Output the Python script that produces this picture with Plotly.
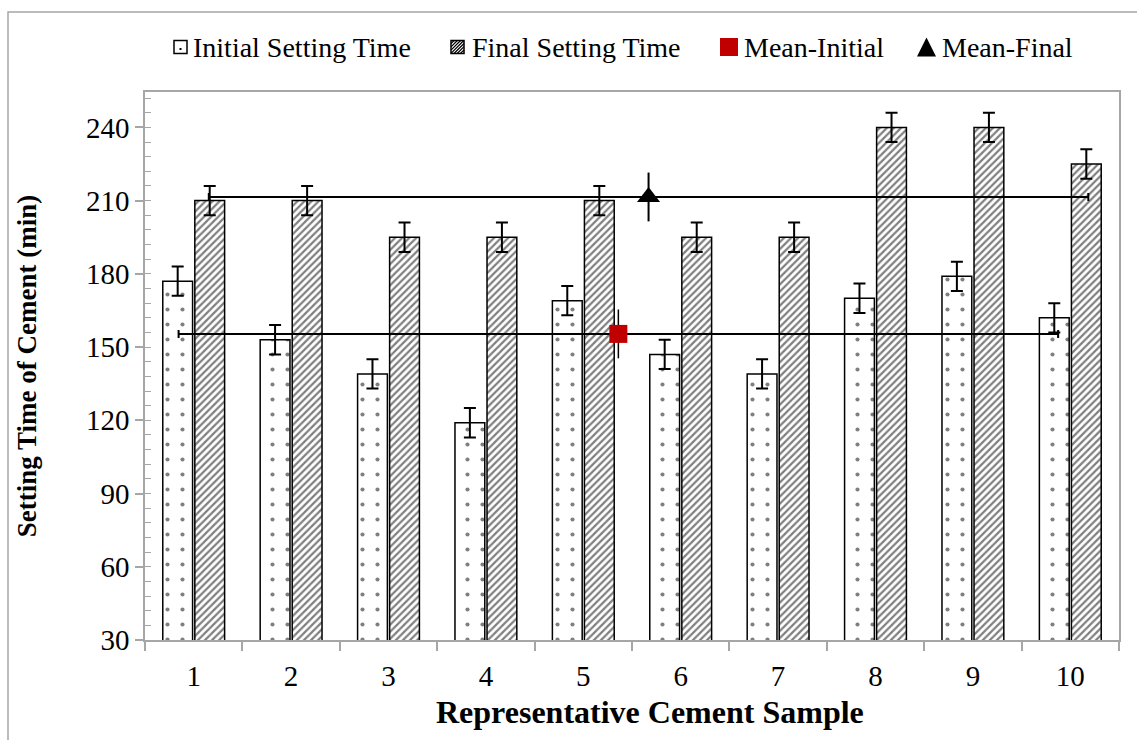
import plotly.graph_objects as go

samples = [1, 2, 3, 4, 5, 6, 7, 8, 9, 10]
initial_time = [177, 153, 139, 119, 169, 147, 139, 170, 179, 162]
final_time = [210, 210, 195, 195, 210, 195, 195, 240, 240, 225]
bar_err = 6

mean_initial = 155.4
mean_final = 211.5
mean_initial_x = 5.36
mean_final_x = 5.67
mean_x_half_span = 4.515
mean_y_err = 10

legend_names = ["Initial Setting Time", "Final Setting Time", "Mean-Initial", "Mean-Final"]
x_title = "Representative Cement Sample"
y_title = "Setting Time of Cement (min)"

FONT = "Liberation Serif"

# plot-area geometry in pixels (for legend placement in paper coordinates)
W, H = 1137, 740
ML, MR, MT, MB = 145, 18, 92, 100
PW, PH = W - ML - MR, H - MT - MB


def px(x):
    return (x - ML) / PW


def py(y):
    return (H - MB - y) / PH


fig = go.Figure()

fig.add_trace(go.Bar(
    x=samples, y=initial_time, name=legend_names[0],
    marker=dict(color="white", line=dict(color="black", width=1.5),
                pattern=dict(shape=".", fgcolor="black", bgcolor="white", size=15, solidity=0.06)),
    error_y=dict(type="constant", value=bar_err, color="black", thickness=2, width=6),
))
fig.add_trace(go.Bar(
    x=samples, y=final_time, name=legend_names[1],
    marker=dict(color="white", line=dict(color="black", width=1.5),
                pattern=dict(shape="/", fgcolor="black", bgcolor="white", size=5, solidity=0.45)),
    error_y=dict(type="constant", value=bar_err, color="black", thickness=2, width=6),
))
fig.add_trace(go.Scatter(
    x=[mean_initial_x], y=[mean_initial], name=legend_names[2], mode="markers",
    marker=dict(symbol="square", size=18, color="#C00000"),
    error_x=dict(type="constant", value=mean_x_half_span, color="black", thickness=2, width=4),
    error_y=dict(type="constant", value=mean_y_err, color="black", thickness=1.5, width=0),
))
fig.add_trace(go.Scatter(
    x=[mean_final_x], y=[mean_final], name=legend_names[3], mode="markers",
    marker=dict(symbol="triangle-up", size=20, color="black"),
    error_x=dict(type="constant", value=mean_x_half_span, color="black", thickness=2, width=4),
    error_y=dict(type="constant", value=mean_y_err, color="black", thickness=2, width=0),
))

# ---- manual legend (icons as shapes, labels as annotations) ----
LY = 47
icon_x = [174, 451, 720, 917]
text_x = [191, 470, 742, 940]
shapes = []
# outer chart frame
shapes.append(dict(type="rect", xref="paper", yref="paper",
                   x0=px(8), x1=px(1200), y0=py(12), y1=py(800),
                   line=dict(color="#A6A6A6", width=1.5), layer="below"))
# icon 1: dotted square
s = 13
x0 = icon_x[0]
shapes.append(dict(type="rect", xref="paper", yref="paper",
                   x0=px(x0), x1=px(x0 + s), y0=py(LY - s / 2), y1=py(LY + s / 2),
                   line=dict(color="black", width=1.5), fillcolor="white"))
shapes.append(dict(type="rect", xref="paper", yref="paper",
                   x0=px(x0 + s / 2 - 1), x1=px(x0 + s / 2 + 1), y0=py(LY + 1), y1=py(LY + 3),
                   line=dict(width=0), fillcolor="black"))
# icon 2: hatched square
x0 = icon_x[1]
shapes.append(dict(type="rect", xref="paper", yref="paper",
                   x0=px(x0), x1=px(x0 + s), y0=py(LY - s / 2), y1=py(LY + s / 2),
                   line=dict(color="black", width=1.5), fillcolor="white"))
segs = []
top, bot = LY - s / 2, LY + s / 2
step = 3.2
k = -s
while k < s:
    pts = []
    for t in [0.0, s]:
        xa = x0 + t
        ya = bot - (t - k)
        pts.append((xa, ya))
    (xa, ya), (xb, yb) = pts
    if ya > bot:
        xa, ya = xa + (ya - bot), bot
    if yb < top:
        xb, yb = xb - (top - yb), top
    if xa < xb:
        segs.append(f"M{px(xa)},{py(ya)} L{px(xb)},{py(yb)}")
    k += step
shapes.append(dict(type="path", xref="paper", yref="paper", path=" ".join(segs),
                   line=dict(color="black", width=1.2)))
# icon 3: red square
x0 = icon_x[2]
s3 = 18
shapes.append(dict(type="rect", xref="paper", yref="paper",
                   x0=px(x0), x1=px(x0 + s3), y0=py(LY - s3 / 2), y1=py(LY + s3 / 2),
                   line=dict(width=0), fillcolor="#C00000"))
# icon 4: black triangle
x0 = icon_x[3]
tw, th = 19, 19
shapes.append(dict(type="path", xref="paper", yref="paper",
                   path=f"M{px(x0)},{py(LY + th / 2)} L{px(x0 + tw)},{py(LY + th / 2)} "
                        f"L{px(x0 + tw / 2)},{py(LY - th / 2)} Z",
                   line=dict(width=0), fillcolor="black"))

annotations = [dict(text=name, xref="paper", yref="paper", x=px(tx), y=py(LY + 1),
                    xanchor="left", yanchor="middle", showarrow=False,
                    font=dict(family=FONT, size=28, color="black"))
               for name, tx in zip(legend_names, text_x)]
# x-axis title (offset to the right like the original)
annotations.append(dict(text=f"<b>{x_title}</b>", xref="paper", yref="paper",
                        x=px(650), y=py(712), xanchor="center", yanchor="middle",
                        showarrow=False, font=dict(family=FONT, size=32, color="black")))

fig.update_layout(
    width=W, height=H,
    margin=dict(l=ML, r=MR, t=MT, b=MB),
    paper_bgcolor="white", plot_bgcolor="white",
    font=dict(family=FONT, color="black", size=28),
    barmode="group", bargap=0.342, bargroupgap=0.07,
    showlegend=False,
    shapes=shapes,
    annotations=annotations,
)

fig.update_xaxes(
    range=[0.5, 10.5], tickmode="array", tickvals=samples, ticktext=[str(v) for v in samples],
    ticks="", tickfont=dict(family=FONT, size=29), ticklabelstandoff=9,
    showline=True, linecolor="#A6A6A6", linewidth=1.5, mirror=True, showgrid=False, zeroline=False,
    minor=dict(tick0=0.5, dtick=1, ticks="outside", ticklen=9, tickcolor="#A6A6A6", tickwidth=1.5, showgrid=False),
)
fig.update_yaxes(
    range=[30, 254.5], tickmode="linear", tick0=30, dtick=30,
    ticks="outside", ticklen=8, tickcolor="#A6A6A6", tickwidth=1.5,
    tickfont=dict(family=FONT, size=29), ticklabelstandoff=0,
    showline=True, linecolor="#A6A6A6", linewidth=1.5, mirror=True, showgrid=False, zeroline=False,
    minor=dict(dtick=6, ticks="inside", ticklen=6, tickcolor="#A6A6A6", tickwidth=1, showgrid=False),
    title=dict(text=f"<b>{y_title}</b>", font=dict(family=FONT, size=27), standoff=42),
)

fig.write_html("out.html")
